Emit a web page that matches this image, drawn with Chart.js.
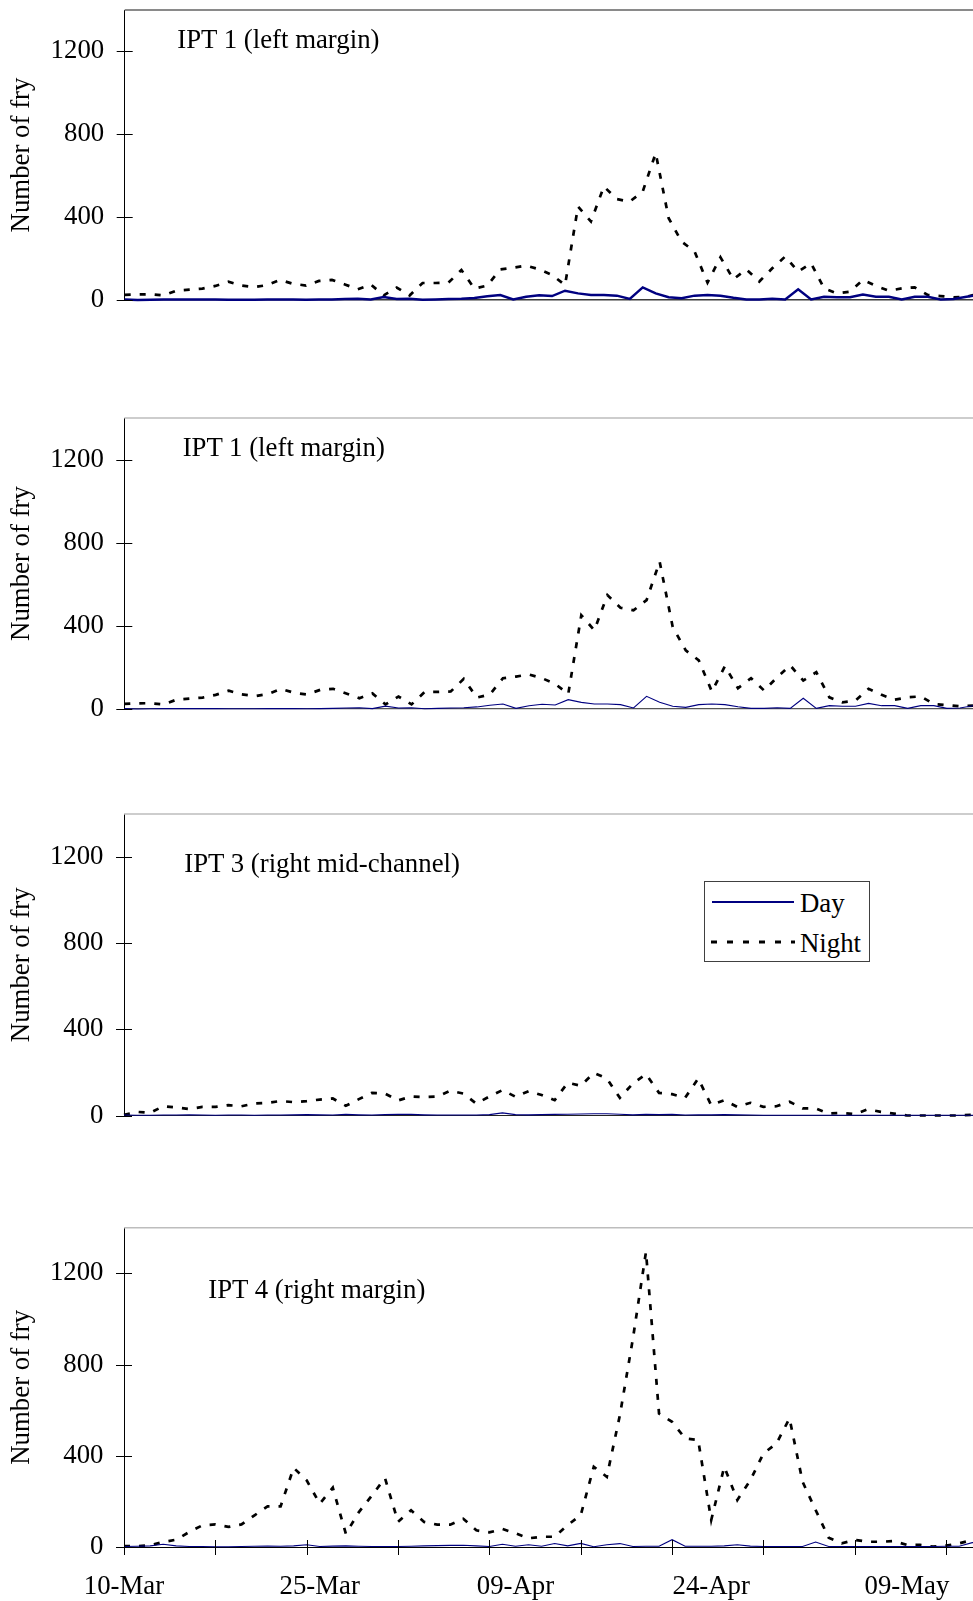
<!DOCTYPE html>
<html>
<head>
<meta charset="utf-8">
<script src="https://cdn.jsdelivr.net/npm/chart.js@4.4.1/dist/chart.umd.min.js"></script>
<style>
  html, body { margin: 0; padding: 0; background: #fff; }
  #page { position: relative; width: 973px; height: 1601px; overflow: hidden;
          font-family: 'Liberation Serif', 'Times New Roman', serif; }
  canvas { position: absolute; left: 0; }
  .title { position: absolute; font-size: 26.8px; line-height: 26px; white-space: nowrap; color: #000; }
  #legend { position: absolute; left: 704px; top: 881px; width: 164px; height: 79px;
            border: 1px solid #404040; background: #fff; }
  #legend svg { position: absolute; left: 0; top: 0; }
</style>
</head>
<body>
<div id="page">
  <canvas id="c0"></canvas>
  <canvas id="c1"></canvas>
  <canvas id="c2"></canvas>
  <canvas id="c3"></canvas>
  <div id="legend">
    <svg width="164" height="79">
      <line x1="7" y1="20" x2="89" y2="20" stroke="#000080" stroke-width="2"></line>
      <line x1="6" y1="60" x2="90" y2="60" stroke="#000" stroke-width="3" stroke-dasharray="6 10"></line>
    </svg>
    <div class="title" style="left:95px; top:8px;">Day</div>
    <div class="title" style="left:95px; top:48px;">Night</div>
  </div>
</div>
<script>
// date labels every 15 days, tick marks every 7 samples
const tickLabels = ['10-Mar', '25-Mar', '09-Apr', '24-Apr', '09-May'];
const seriesNames = ['Day', 'Night'];
const panelTitles = ['IPT 1 (left margin)', 'IPT 1 (left margin)', 'IPT 3 (right mid-channel)', 'IPT 4 (right margin)'];

// daily counts from 10-Mar (index 0)
const dayIPT1 = [2, 0, 1, 2, 2, 2, 2, 2, 1, 1, 1, 2, 2, 2, 1, 2, 3, 5, 6, 2,
  14, 5, 6, 1, 3, 5, 6, 10, 18, 24, 3, 16, 23, 19, 45, 32, 24, 24, 21, 5,
  61, 32, 13, 8, 21, 24, 21, 11, 3, 3, 6, 3, 52, 3, 16, 13, 13, 27, 16, 16,
  3, 16, 16, 3, 5, 16, 25];
const nightIPT1 = [25, 27, 28, 22, 45, 50, 55, 68, 88, 70, 62, 72, 97, 78, 70, 92, 97, 75, 52, 75,
  22, 60, 22, 82, 82, 84, 145, 55, 70, 148, 156, 166, 148, 121, 72, 451, 379, 548, 487, 475,
  524, 709, 395, 282, 234, 84, 206, 100, 148, 89, 153, 210, 137, 177, 56, 32, 40, 97, 68, 45,
  56, 61, 24, 19, 13, 16, 32];

const dayIPT3 = [2, 1, 1, 2, 2, 3, 2, 1, 2, 2, 1, 2, 2, 3, 4, 3, 2, 5, 3, 2,
  4, 5, 5, 3, 2, 2, 2, 2, 4, 12, 4, 3, 4, 5, 6, 7, 8, 8, 6, 3,
  5, 4, 5, 2, 3, 3, 4, 3, 2, 1, 1, 1, 1, 1, 1, 1, 1, 1, 1, 1,
  1, 1, 1, 1, 1, 1, 1];
const nightIPT3 = [3, 17, 12, 43, 37, 30, 40, 40, 48, 43, 56, 59, 67, 62, 67, 74, 79, 45, 76, 105,
  102, 70, 88, 85, 88, 115, 102, 55, 88, 118, 87, 113, 95, 71, 152, 138, 198, 172, 82, 149,
  192, 105, 99, 82, 172, 48, 71, 40, 59, 40, 43, 64, 33, 33, 9, 12, 6, 29, 17, 9,
  0, 0, 0, 0, 0, 3, 3];

const dayIPT4 = [2, 3, 5, 12, 5, 2, 2, 1, 1, 2, 3, 4, 3, 5, 10, 2, 4, 5, 3, 2,
  2, 2, 3, 5, 6, 7, 8, 5, 2, 12, 3, 10, 3, 15, 5, 16, 1, 10, 15, 2,
  3, 3, 32, 3, 3, 3, 5, 10, 4, 2, 2, 2, 2, 22, 2, 2, 2, 2, 2, 2,
  2, 2, 2, 3, 3, 19, 20];
const nightIPT4 = [4, 4, 7, 22, 32, 66, 95, 99, 88, 99, 139, 178, 178, 347, 292, 190, 260, 58, 153, 226,
  302, 110, 161, 110, 98, 98, 124, 73, 64, 79, 60, 38, 45, 45, 96, 140, 352, 308, 578, 914,
  1294, 585, 549, 476, 469, 118, 352, 206, 293, 410, 454, 564, 286, 162, 41, 16, 31, 23, 23, 26,
  9, 9, 2, 6, 16, 31, 35];

const FONT = { family: "'Liberation Serif', 'Times New Roman', serif", size: 26.8 };
const DAY_COLOR = '#000080';
const LABEL_EVERY = 15;
const MARK_EVERY = 7;

const PANELS = [
  { day: dayIPT1, night: nightIPT1, top: 0, height: 400, plotTop: 10, plotBottom: 300, axisX: 124.7, xMax: 65.5,
    dayWidth: 2.5, frame: '#8a8a8a', frameWidth: 2, base: '#3a3a3a', baseWidth: 1.5, dates: false,
    titleLeft: 177.3, titleBase: 48.3 },
  { day: dayIPT1, night: nightIPT1, top: 400, height: 400, plotTop: 418, plotBottom: 709, axisX: 124.3, xMax: 65.0,
    dayWidth: 1.1, frame: '#bdbdbd', frameWidth: 1.5, base: '#555', baseWidth: 1.2, dates: false,
    titleLeft: 182.7, titleBase: 455.8 },
  { day: dayIPT3, night: nightIPT3, top: 800, height: 400, plotTop: 814, plotBottom: 1115.5, axisX: 124, xMax: 65.06,
    dayWidth: 1.1, frame: '#bdbdbd', frameWidth: 1.5, base: '#222', baseWidth: 1, dates: false,
    titleLeft: 184.3, titleBase: 871.7 },
  { day: dayIPT4, night: nightIPT4, top: 1200, height: 401, plotTop: 1227.7, plotBottom: 1547, axisX: 124, xMax: 65.06,
    dayWidth: 1.1, frame: '#bdbdbd', frameWidth: 1.5, base: '#000', baseWidth: 1, dates: true,
    titleLeft: 208.3, titleBase: 1298.3 }
];

// top frame line plus tick marks that cross the axes
const axisMarks = {
  id: 'axisMarks',
  afterDraw(chart, args, opts) {
    const { ctx, chartArea } = chart;
    const xs = chart.scales.x, ys = chart.scales.y;
    ctx.save();
    ctx.strokeStyle = opts.frame;
    ctx.lineWidth = opts.frameWidth;
    ctx.beginPath();
    ctx.moveTo(chartArea.left, chartArea.top);
    ctx.lineTo(chartArea.right, chartArea.top);
    ctx.stroke();

    ctx.strokeStyle = '#000';
    ctx.lineWidth = 1;
    ctx.beginPath();
    ys.ticks.forEach(t => {
      const py = Math.round(ys.getPixelForValue(t.value)) + 0.5;
      ctx.moveTo(chartArea.left - 8, py);
      ctx.lineTo(chartArea.left + 8, py);
    });
    if (opts.dates) {
      xs.ticks.forEach(t => {
        if (t.value % MARK_EVERY !== 0) return;
        const px = Math.round(xs.getPixelForValue(t.value)) + 0.5;
        ctx.moveTo(px, chartArea.bottom - 7);
        ctx.lineTo(px, chartArea.bottom + 8);
      });
    }
    ctx.stroke();
    ctx.restore();
  }
};

const page = document.getElementById('page');

PANELS.forEach((p, k) => {
  const canvas = document.getElementById('c' + k);
  canvas.width = 973;
  canvas.height = p.height;
  canvas.style.top = p.top + 'px';

  const title = document.createElement('div');
  title.className = 'title';
  title.textContent = panelTitles[k];
  title.style.left = p.titleLeft + 'px';
  title.style.top = (p.titleBase - 22) + 'px';
  page.appendChild(title);

  new Chart(canvas, {
    type: 'line',
    data: {
      datasets: [
        { label: seriesNames[0], data: p.day.map((v, i) => ({ x: i, y: v })),
          borderColor: DAY_COLOR, borderWidth: p.dayWidth, pointRadius: 0, tension: 0, clip: false },
        { label: seriesNames[1], data: p.night.map((v, i) => ({ x: i, y: v })),
          borderColor: '#000', borderWidth: 2.7, borderDash: [6, 9], pointRadius: 0, tension: 0, clip: false }
      ]
    },
    options: {
      responsive: false,
      animation: false,
      events: [],
      layout: { padding: { top: p.plotTop - p.top, left: 0, right: 0, bottom: 0 } },
      plugins: {
        legend: { display: false },
        tooltip: { enabled: false },
        axisMarks: { frame: p.frame, frameWidth: p.frameWidth, dates: p.dates }
      },
      scales: {
        x: {
          type: 'linear', min: 0, max: p.xMax,
          grid: { display: false, drawTicks: false },
          border: { display: true, color: p.base, width: p.baseWidth },
          afterBuildTicks: s => {
            const t = [];
            for (let v = 0; v <= s.max; v++) {
              if (v % MARK_EVERY === 0 || v % LABEL_EVERY === 0) t.push({ value: v });
            }
            s.ticks = t;
          },
          ticks: {
            display: p.dates, autoSkip: false, maxRotation: 0,
            padding: 24, color: '#000', font: FONT,
            callback: v => (v % LABEL_EVERY === 0 ? tickLabels[v / LABEL_EVERY] : '')
          },
          afterFit: s => { s.height = p.top + p.height - p.plotBottom; s.paddingLeft = 0; s.paddingRight = 0; }
        },
        y: {
          min: 0, max: 1400,
          grid: { display: false, drawTicks: false },
          border: { display: true, color: '#000', width: 1 },
          ticks: { stepSize: 400, includeBounds: false, padding: 20.5, color: '#000', font: FONT,
                   callback: v => String(v) },
          title: { display: true, text: 'Number of fry', color: '#000', font: FONT, padding: { top: 6, bottom: 0 } },
          afterFit: s => { s.width = p.axisX; s.paddingTop = 0; s.paddingBottom = 0; }
        }
      }
    },
    plugins: [axisMarks]
  });
});
</script>
</body>
</html>
